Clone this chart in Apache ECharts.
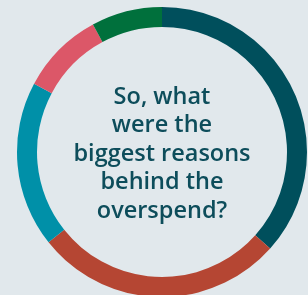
<!DOCTYPE html>
<html>
<head>
<meta charset="utf-8">
<script src="https://cdn.jsdelivr.net/npm/echarts@6/dist/echarts.min.js"></script>
<style>
  html, body { margin: 0; padding: 0; background: #e1e8ec; }
  #chart { width: 308px; height: 295px; }
</style>
</head>
<body>
<div id="chart"></div>
<script>
// reasons for overspend, clockwise from 12 o'clock
const reasons = ['Reason A', 'Reason B', 'Reason C', 'Reason D', 'Reason E'];
const shares = [36.6, 27.7, 18.5, 9.3, 7.9];
const colors = ['#004f5c', '#b54633', '#0090a8', '#dc5768', '#00703c'];
const centerText = 'So, what\nwere the\nbiggest reasons\nbehind the\noverspend?';

const chart = echarts.init(document.getElementById('chart'));
const option = {
    backgroundColor: '#e1e8ec',
    animation: false,
    graphic: [
        {
            type: 'text',
            x: 162,
            y: 154,
            style: {
                text: centerText,
                fill: '#0d4d5b',
                font: '600 23.5px "Open Sans"',
                lineHeight: 28.5,
                textAlign: 'center',
                textVerticalAlign: 'middle'
            }
        }
    ],
    series: [
        {
            type: 'pie',
            radius: [125, 145],
            center: [162, 152],
            startAngle: 90,
            clockwise: true,
            silent: true,
            label: { show: false },
            labelLine: { show: false },
            data: reasons.map((name, i) => ({
                name: name,
                value: shares[i],
                itemStyle: { color: colors[i] }
            }))
        }
    ]
};
chart.setOption(option);
</script>
</body>
</html>
